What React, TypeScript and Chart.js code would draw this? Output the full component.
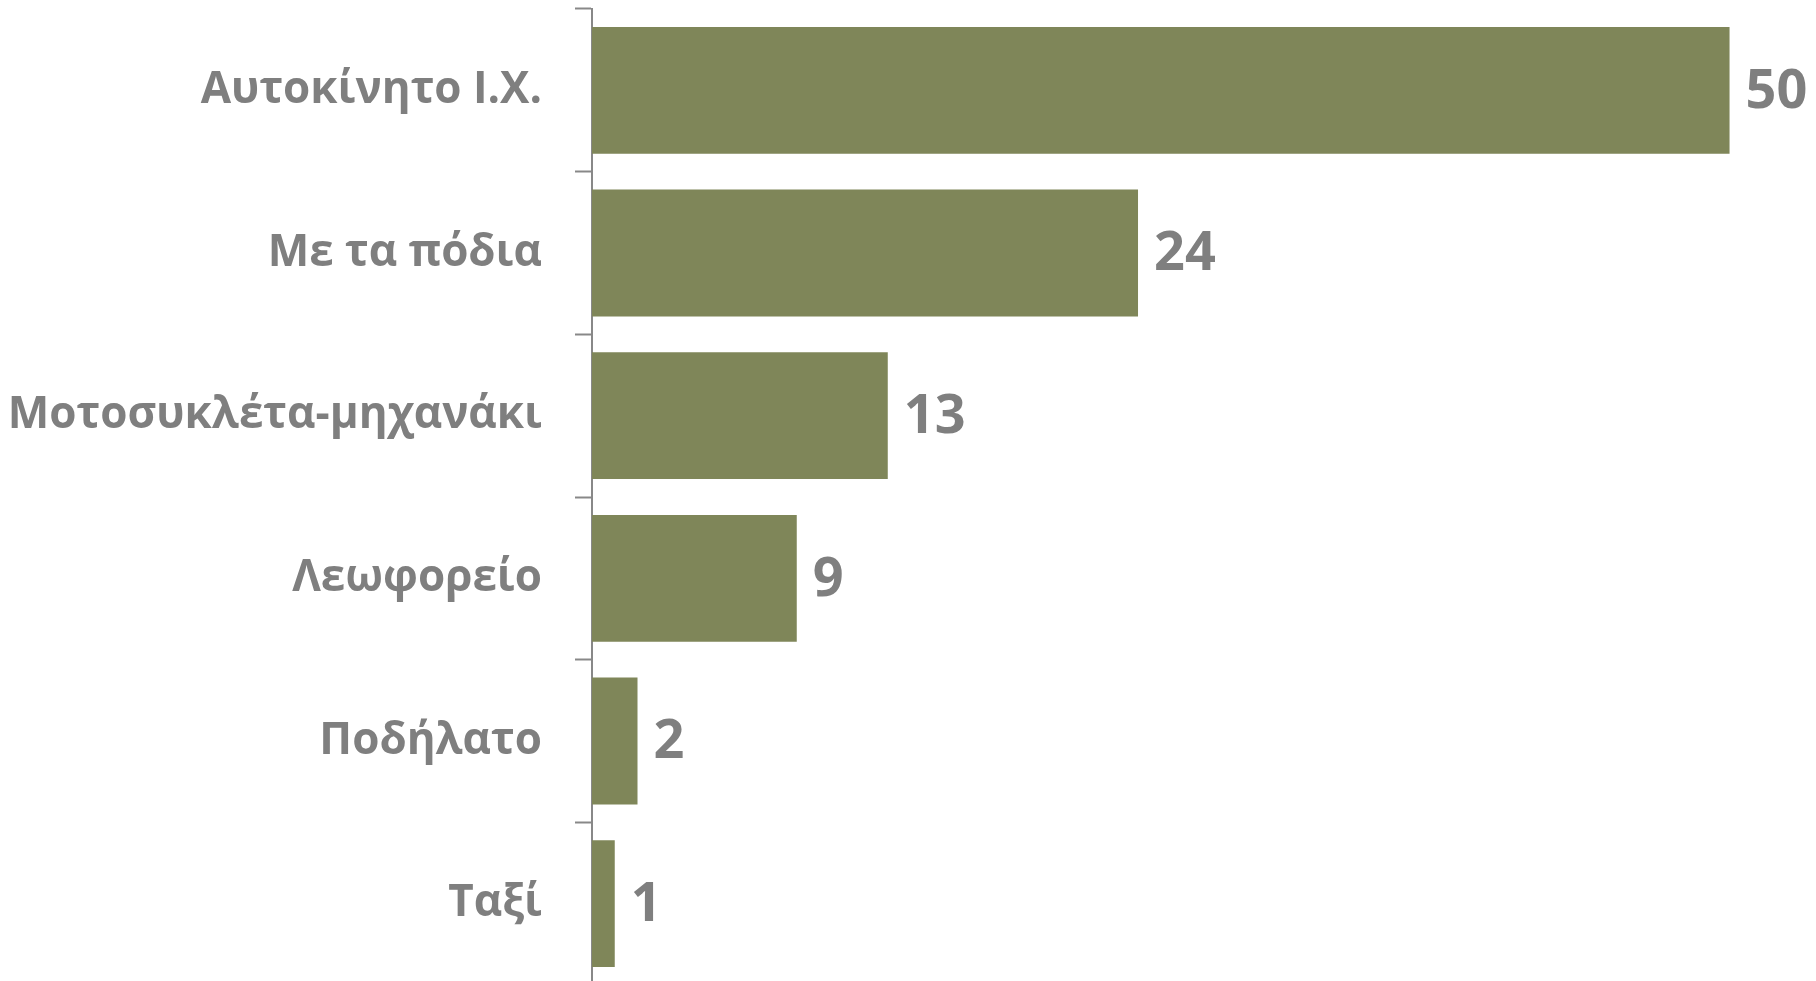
import React, { useEffect, useRef } from "react";
import { Chart, registerables } from "chart.js";

Chart.register(...registerables);

const categories = [
  "Αυτοκίνητο Ι.Χ.",
  "Με τα πόδια",
  "Μοτοσυκλέτα-μηχανάκι",
  "Λεωφορείο",
  "Ποδήλατο",
  "Ταξί",
];
const values = [50, 24, 13, 9, 2, 1];

const TEXT = "#7f7f7f";
const BAR = "#7f8659";
const FONT = "'Open Sans', 'Noto Sans', sans-serif";

const valueLabels = {
  id: "valueLabels",
  afterDatasetsDraw(chart: any) {
    const ctx = chart.ctx;
    const meta = chart.getDatasetMeta(0);
    ctx.save();
    ctx.font = `bold 54px ${FONT}`;
    ctx.fillStyle = TEXT;
    ctx.textAlign = "left";
    ctx.textBaseline = "middle";
    meta.data.forEach((el: any, i: number) => {
      ctx.fillText(String(values[i]), el.x + 16, el.y + 2);
    });
    ctx.restore();
  },
};

export default function App() {
  const ref = useRef<HTMLCanvasElement>(null);
  useEffect(() => {
    if (!ref.current) return;
    const chart = new Chart(ref.current, {
      type: "bar",
      data: {
        labels: categories,
        datasets: [
          {
            data: values,
            backgroundColor: BAR,
            borderWidth: 0,
            barPercentage: 0.78,
            categoryPercentage: 1,
          },
        ],
      },
      options: {
        indexAxis: "y",
        animation: false,
        responsive: true,
        maintainAspectRatio: false,
        layout: { padding: { top: 9, right: 0, bottom: 0, left: 0 } },
        plugins: { legend: { display: false }, tooltip: { enabled: false } },
        scales: {
          x: { display: false, min: 0, max: 53.8 },
          y: {
            afterFit: (scale: any) => {
              scale.width = 592;
              scale.paddingTop = 0;
              scale.paddingBottom = 0;
            },
            grid: {
              display: true,
              drawOnChartArea: false,
              drawTicks: true,
              tickLength: 17,
              tickWidth: 2,
              tickColor: "#888888",
              offset: true,
            },
            border: { display: true, color: "#888888", width: 2 },
            ticks: {
              padding: 33,
              color: TEXT,
              font: { family: FONT, size: 44, weight: "bold" },
            },
          },
        },
      },
      plugins: [valueLabels],
    });
    return () => chart.destroy();
  }, []);
  return (
    <div style={{ position: "fixed", left: 0, top: 0, width: 1816, height: 985, background: "#fff" }}>
      <canvas ref={ref} />
    </div>
  );
}
